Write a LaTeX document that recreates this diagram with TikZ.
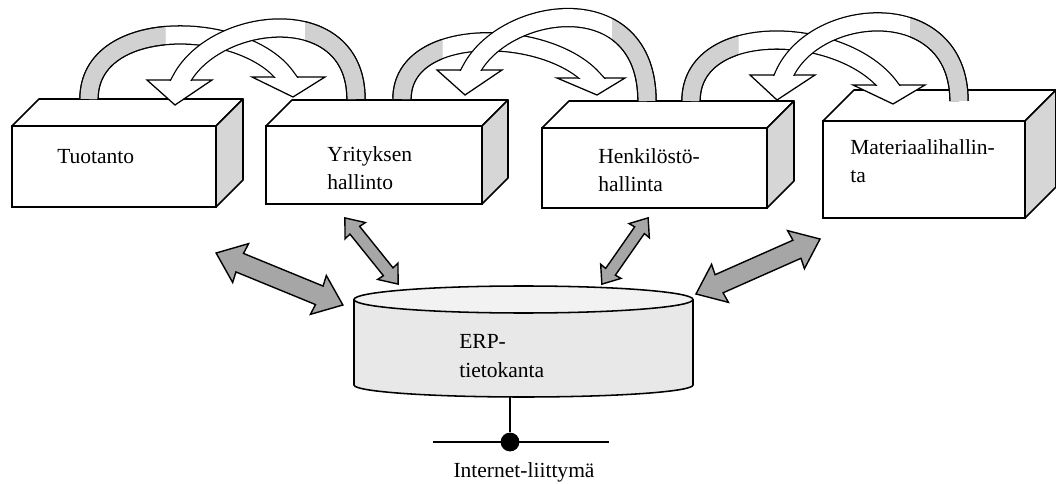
\documentclass[tikz,border=0pt]{standalone}
\usepackage{fontspec}
\setmainfont{Liberation Serif}
\begin{document}
\begin{tikzpicture}[x=0.025cm, y=-0.025cm,
    every node/.style={font=\fontsize{15.3}{20.6}\selectfont},
    face/.style={draw, line width=1.1pt, fill=white, inner sep=0pt, outer sep=0pt},
    topface/.style={draw, line width=1.1pt, fill=white, line join=round},
    sideface/.style={draw, line width=1.1pt, fill=black!16, line join=round},
    lbl/.style={align=left, inner sep=0pt, anchor=base west},
    band/.style={line width=0.9pt, double=white, double distance=12pt},
    bandshade/.style={band, double=black!18},
    head/.style={draw, line width=0.9pt, fill=white, line join=miter},
    linkarrow/.style={draw, line width=1pt, fill=black!35, line join=miter},
    pics/twoway/.style={code={
      \draw[linkarrow] (-68.5,0) -- (-42,-21) -- (-43,-10) -- (43,-10)
        -- (42,-21) -- (68.5,0) -- (42,21) -- (43,10) -- (-43,10) -- (-42,21) -- cycle;
    }},
  ]
  \useasboundingbox (0,0) rectangle (1056,484);

  % --- the four modules ---
  \foreach \n/\x/\y/\w/\h/\d in {tuo/12/126/204/81/27, yri/266/126/216/78/26,
                                 hen/542/128/225/80/27, mat/823/121/202/97/31} {
    \node[face, anchor=north west, minimum width=\w*0.025cm, minimum height=\h*0.025cm]
      (\n) at (\x,\y) {};
    \draw[topface] (\n.north west) -- ++(\d,-\d) -- ++(\w,0) -- (\n.north east) -- cycle;
    \draw[sideface] (\n.north east) -- ++(\d,-\d) -- ++(0,\h) -- (\n.south east) -- cycle;
  }
  % (base = baseline of the last line)
  \node[lbl] (tuoT) at (57,164) {Tuotanto};
  \node[lbl] (yriT) at (327,190) {Yrityksen\\hallinto};
  \node[lbl] (henT) at (598,192) {Henkilöstö-\\hallinta};
  \node[lbl] (matT) at (850,183) {Materiaalihallin-\\ta};

  % --- curved arrows between the modules ---
  % Tuotanto -> Yrityksen hallinto
  \draw[head] (252,77) -- (293,97) -- (325,77) -- cycle;
  \begin{scope}
    \clip (0,-30) rectangle (1056,78) (0,78) rectangle (245,484);
    \draw[band] (89,99) .. controls (89,15) and (245,20) .. (286,77) -- ++(8,11);
  \end{scope}
  \begin{scope}
    \clip (0,-30) rectangle (165,484);
    \draw[bandshade] (89,99) .. controls (89,15) and (245,20) .. (286,77);
  \end{scope}
  % Yrityksen hallinto -> Tuotanto
  \draw[head] (147,80) -- (175,105) -- (212,80) -- cycle;
  \begin{scope}
    \clip (0,-30) rectangle (1056,81) (225,81) rectangle (1056,484);
    \draw[band] (356,99) .. controls (356,0) and (215,15) .. (181,80) -- ++(-7,13);
  \end{scope}
  \begin{scope}
    \clip (305,-30) rectangle (1056,484);
    \draw[bandshade] (356,99) .. controls (356,0) and (215,15) .. (181,80);
  \end{scope}
  % Yrityksen hallinto -> Henkilostohallinta
  \draw[head] (557,78) -- (597,95) -- (625,78) -- cycle;
  \begin{scope}
    \clip (0,-30) rectangle (1056,79) (0,79) rectangle (550,484);
    \draw[band] (402,99) .. controls (402,25) and (545,28) .. (592,78) -- ++(10,11);
  \end{scope}
  \begin{scope}
    \clip (0,-30) rectangle (442,484);
    \draw[bandshade] (402,99) .. controls (402,25) and (545,28) .. (592,78);
  \end{scope}
  % Henkilostohallinta -> Yrityksen hallinto
  \draw[head] (437,70) -- (465,95) -- (502,70) -- cycle;
  \begin{scope}
    \clip (0,-30) rectangle (1056,71) (510,71) rectangle (1056,484);
    \draw[band] (647,101) .. controls (647,-15) and (505,5) .. (471,70) -- ++(-7,13);
  \end{scope}
  \begin{scope}
    \clip (612,-30) rectangle (1056,484);
    \draw[bandshade] (647,101) .. controls (647,-15) and (505,5) .. (471,70);
  \end{scope}
  % Henkilostohallinta -> Materiaalihallinta
  \draw[head] (853,85) -- (893,104) -- (925,85) -- cycle;
  \begin{scope}
    \clip (0,-30) rectangle (1056,86) (0,86) rectangle (845,484);
    \draw[band] (691,101) .. controls (691,20) and (840,25) .. (888,85) -- ++(9,12);
  \end{scope}
  \begin{scope}
    \clip (0,-30) rectangle (738,484);
    \draw[bandshade] (691,101) .. controls (691,20) and (840,25) .. (888,85);
  \end{scope}
  % Materiaalihallinta -> Henkilostohallinta
  \draw[head] (750,75) -- (777,100) -- (815,75) -- cycle;
  \begin{scope}
    \clip (0,-30) rectangle (1056,76) (825,76) rectangle (1056,484);
    \draw[band] (959,101) .. controls (959,-5) and (815,5) .. (784,75) -- ++(-6,14);
  \end{scope}
  \begin{scope}
    \clip (910,-30) rectangle (1056,484);
    \draw[bandshade] (959,101) .. controls (959,-5) and (815,5) .. (784,75);
  \end{scope}

  % --- ERP database ---
  \fill[black!9] (354,299.5) -- (354,385)
    arc[start angle=180, end angle=0, x radius=169.5, y radius=12] -- (693,299.5) -- cycle;
  \draw[line width=1.1pt] (354,299.5) -- (354,385)
    arc[start angle=180, end angle=0, x radius=169.5, y radius=12] -- (693,299.5);
  \draw[line width=1.1pt, fill=black!5] (523.5,299.5) ellipse[x radius=169.5, y radius=13.5];
  \node[lbl] (erpT) at (459,377) {ERP-\\tietokanta};

  % two-way links to the database
  \pic[rotate=-22.3] at (279.5,279) {twoway};
  \pic[rotate=-51.2, scale=0.62] at (371.5,251) {twoway};
  \pic[rotate=55.1, scale=0.59] at (625,251) {twoway};
  \pic[rotate=23.9, scale=0.99] at (758,266.5) {twoway};

  % --- internet connection ---
  \coordinate (erpbase) at (510,397);
  \coordinate (netW) at (433,442);
  \coordinate (netE) at (609,442);
  \draw[line width=1.1pt] (netW) -- (netE);
  \node[circle, fill=black, inner sep=0pt, minimum size=0.47cm] (liit) at (510,442) {};
  \draw[line width=1.1pt] (erpbase) -- (liit);
  \node[anchor=base, inner sep=0pt] (netT) at (524,477) {Internet-liittymä};
\end{tikzpicture}
\end{document}
